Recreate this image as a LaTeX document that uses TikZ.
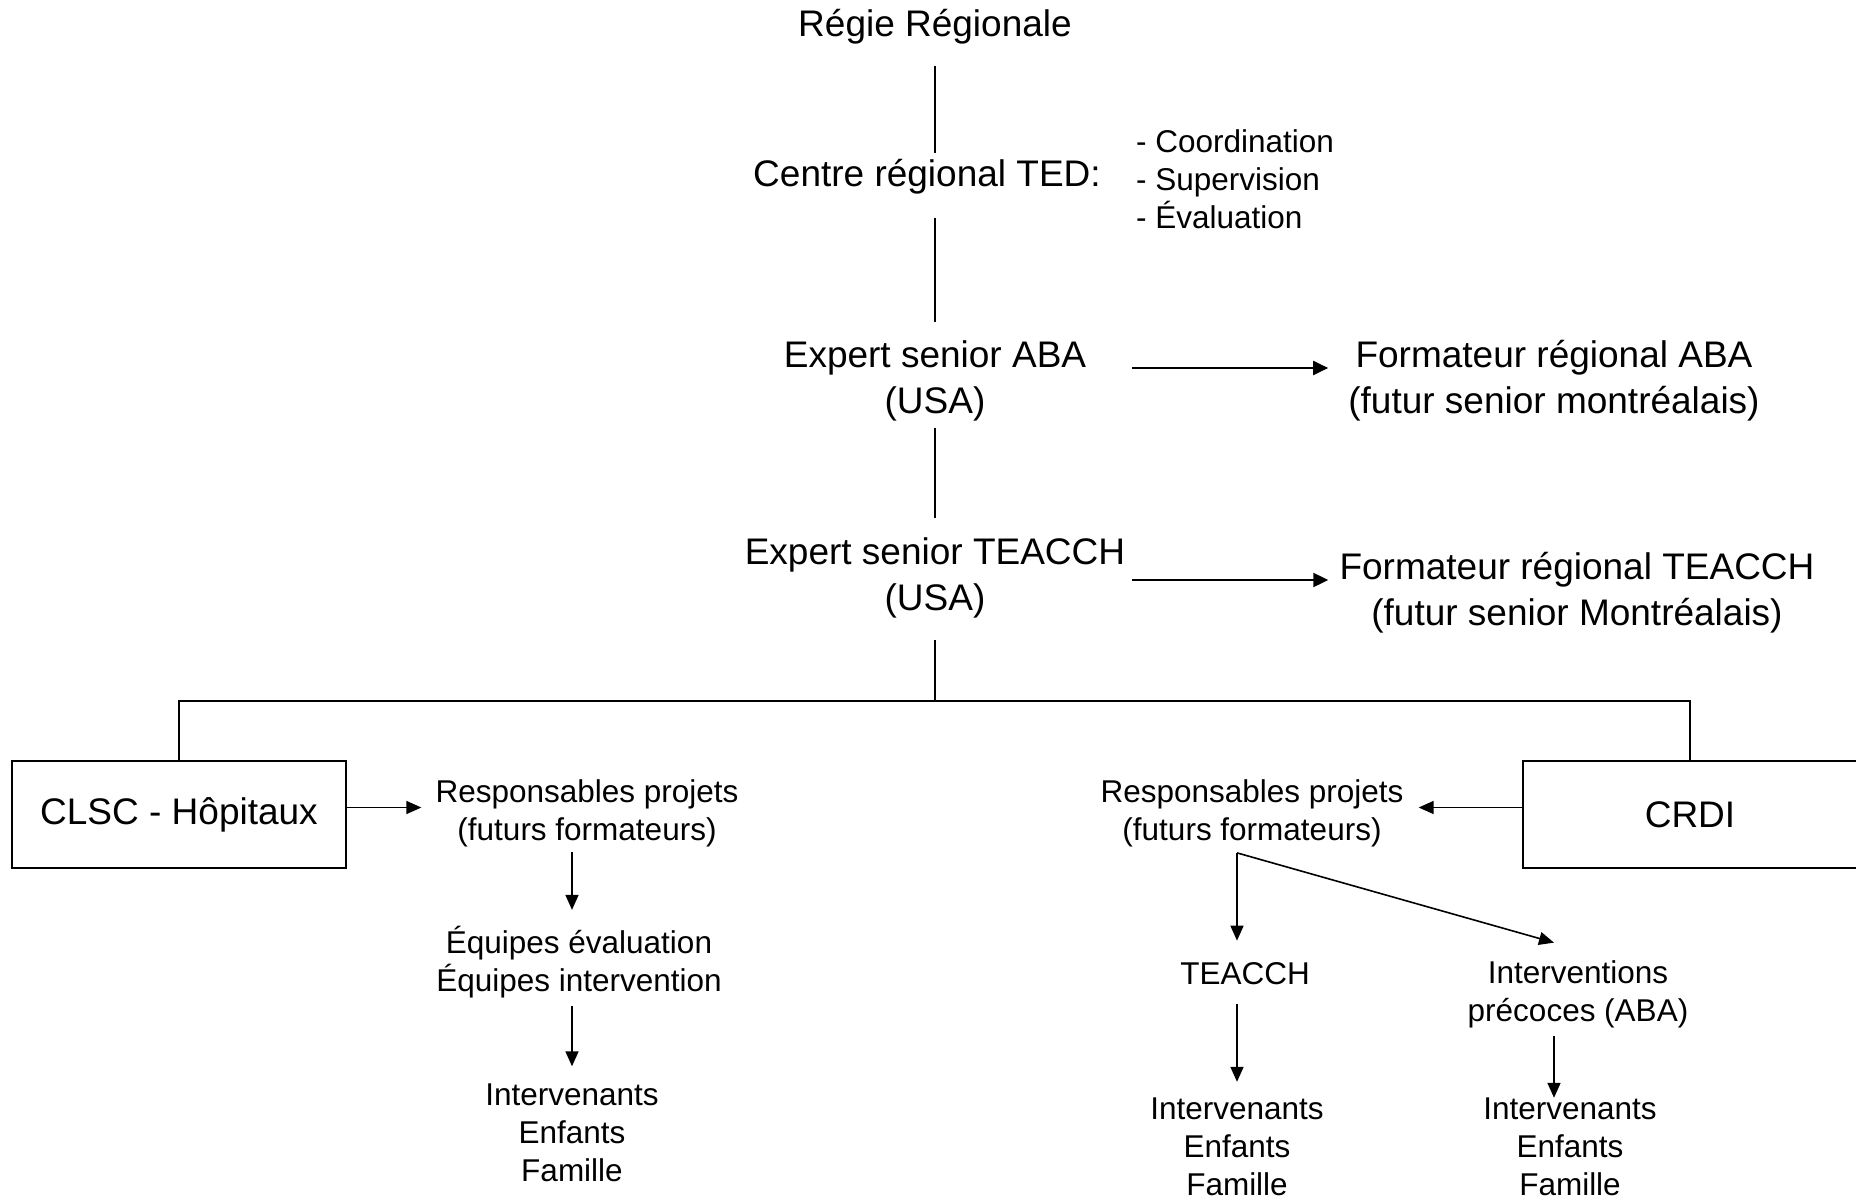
\documentclass[tikz,border=0pt]{standalone}
\usepackage{fontspec}
\setmainfont{Liberation Sans}
\usetikzlibrary{arrows.meta, positioning, calc}

\begin{document}
\begin{tikzpicture}[x=1pt, y=-1pt,
    bigtext/.style={inner sep=0pt, align=center, font=\fontsize{37}{46}\selectfont},
    smalltext/.style={inner sep=0pt, align=center, font=\fontsize{31.5}{38}\selectfont},
    orgbox/.style={draw, line width=2pt, minimum width=334pt, minimum height=107pt, inner sep=0pt, font=\fontsize{37}{46}\selectfont},
    link/.style={line width=1.6pt},
    flow/.style={line width=1.6pt, -{Triangle[length=15pt, width=13pt]}},
    bigflow/.style={line width=2pt, -{Triangle[length=15pt, width=14pt]}}]
  \useasboundingbox (0,0) rectangle (1856,1199);

  % top of the chain
  \node[bigtext] (regie) at (935,27) {Régie Régionale};
  \node[bigtext] (centre) at (927,177) {Centre régional TED:};
  \node[smalltext, align=left, anchor=west] (taches) at (1136,179) {- Coordination\\- Supervision\\- Évaluation};
  \node[bigtext] (expaba) at (935,381) {Expert senior ABA\\(USA)};
  \node[bigtext] (formaba) at (1554,381) {Formateur régional ABA\\(futur senior montréalais)};
  \node[bigtext] (expteacch) at (935,578) {Expert senior TEACCH\\(USA)};
  \node[bigtext] (formteacch) at (1577,593) {Formateur régional TEACCH\\(futur senior Montréalais)};
  \coordinate (split) at (935,701);

  % the two networks
  \node[orgbox] (clsc) at (179,814.5) {CLSC - Hôpitaux};
  \node[orgbox] (crdi) at (1690,814.5) {CRDI};

  \node[smalltext] (respclsc) at (587,813) {Responsables projets\\(futurs formateurs)};
  \node[smalltext] (equipes) at (579,962) {Équipes évaluation\\Équipes intervention};
  \node[smalltext] (intclsc) at (572,1132.5) {Intervenants\\Enfants\\Famille};

  \node[smalltext] (respcrdi) at (1252,813) {Responsables projets\\(futurs formateurs)};
  \node[smalltext] (teacch) at (1245,974) {TEACCH};
  \node[smalltext] (interv) at (1578,994.5) {Interventions\\précoces (ABA)};
  \node[smalltext] (intteacch) at (1237,1147) {Intervenants\\Enfants\\Famille};
  \node[smalltext] (intaba) at (1570,1147) {Intervenants\\Enfants\\Famille};

  % hierarchy lines
  \draw[link, shorten <=21pt, shorten >=6pt] (regie.south) -- (regie.south |- centre.north);
  \draw[link, shorten <=23pt, shorten >=19pt] (expaba.north |- centre.south) -- (expaba.north);
  \draw[link, shorten <=7pt, shorten >=20pt] (expaba.south) -- (expteacch.north);
  \draw[link, shorten <=22pt] (expteacch.south) -- (split);
  \draw[link] (clsc.north) |- (split) -| (crdi.north);

  \draw[bigflow, shorten <=46pt, shorten >=20pt] ([yshift=13pt]expaba.east) -- ([yshift=13pt]expaba.east -| formaba.west);
  \draw[bigflow, shorten <=7pt, shorten >=11pt] ([yshift=-2pt]expteacch.east) -- ([yshift=-2pt]expteacch.east -| formteacch.west);

  % CLSC side
  \draw[flow, shorten >=14pt] ([yshift=7pt]clsc.east) -- ([yshift=7pt]clsc.east -| respclsc.west);
  \draw[flow, shorten <=5pt, shorten >=16pt] (respclsc.south -| intclsc) -- (equipes.north -| intclsc);
  \draw[flow, shorten <=8pt, shorten >=17pt] (equipes.south -| intclsc) -- (intclsc.north);

  % CRDI side
  \draw[flow, shorten >=15pt] ([yshift=7pt]crdi.west) -- ([yshift=7pt]crdi.west -| respcrdi.east);
  \draw[flow, shorten <=6pt, shorten >=22pt] (respcrdi.south -| intteacch) -- (teacch.north -| intteacch);
  \draw[flow] ([xshift=-15pt, yshift=-6pt]respcrdi.south) -- ([xshift=-24pt, yshift=18pt]interv.north);
  \draw[flow, shorten <=19pt, shorten >=16pt] (teacch.south -| intteacch) -- (intteacch.north);
  \draw[flow, shorten <=8pt, shorten >=0pt] ([xshift=-24pt]interv.south) -- ([xshift=-24pt]interv.south |- intaba.north);
\end{tikzpicture}
\end{document}
